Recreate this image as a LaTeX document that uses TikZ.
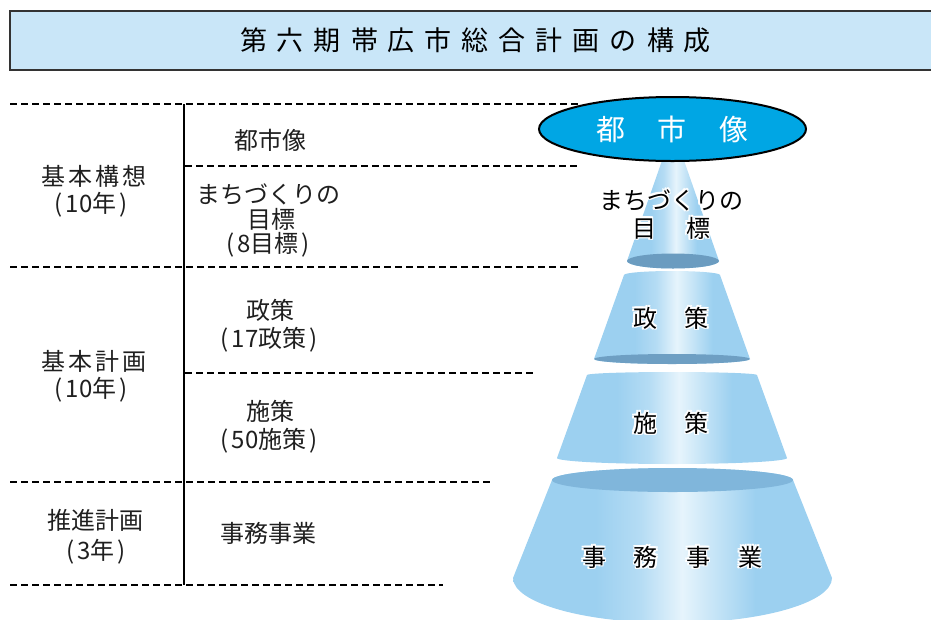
\documentclass[tikz,border=0pt]{standalone}
\usepackage{fontspec}
\setmainfont{Noto Sans CJK JP}
\usetikzlibrary{shapes.geometric}
\definecolor{titlebg}{HTML}{C9E6F8}
\definecolor{titleln}{HTML}{333333}
\definecolor{ellblue}{HTML}{00A6E4}
\definecolor{conebase}{HTML}{9CD0F0}
\definecolor{conemidA}{HTML}{B5DCF4}
\definecolor{conemidB}{HTML}{C3E3F6}
\definecolor{conehi}{HTML}{E6F4FC}
\definecolor{darkA}{HTML}{6B9CC0}
\definecolor{darkB}{HTML}{6E9FC3}
\definecolor{darkC}{HTML}{80B6DB}
\pgfdeclarehorizontalshading{conesh}{100bp}{color(0bp)=(conebase); color(25bp)=(conebase); color(38bp)=(conebase); color(45bp)=(conemidA); color(51.5bp)=(conehi); color(57bp)=(conemidB); color(63bp)=(conebase); color(75bp)=(conebase); color(100bp)=(conebase)}
\newcommand\tgap{\hspace{10pt}}
\newcommand\pl{(\hspace{3pt}}
\newcommand\pr{\hspace{3pt})}
\newcommand\halonode[3]{%
  \foreach \a in {0,45,...,315}{\node[ptxt,text=white] at ([shift={(\a:1.8)}]#2) {#3};}
  \node[ptxt] (#1) at (#2) {#3};}
\begin{document}
\begin{tikzpicture}[x=1pt,y=-1pt,
  dashln/.style={line width=1.3pt, dash pattern=on 6.5pt off 4.5pt},
  ltxt/.style={font=\fontsize{24}{26}\selectfont, inner sep=0pt, text=black!88},
  ptxt/.style={font=\fontsize{24}{26}\selectfont, inner sep=0pt, text=black}]
\useasboundingbox (0,0) rectangle (931,619);
% title
\node[draw=titleln, line width=2pt, fill=titlebg, minimum width=931pt, minimum height=59pt,
  inner sep=0pt, font=\fontsize{27}{29}\selectfont] (title) at (475.5,40.5)
  {第\tgap 六\tgap 期\tgap 帯\tgap 広\tgap 市\tgap 総\tgap 合\tgap 計\tgap 画\tgap の\tgap 構\tgap 成};
% table rules
\draw[dashln] (10,104) -- (580,104);
\draw[dashln] (185,166) -- (577,166);
\draw[dashln] (10,267) -- (580,267);
\draw[dashln] (185,373) -- (533,373);
\draw[dashln] (10,482) -- (492,482);
\draw[dashln] (10,585) -- (443,585);
\draw[line width=2pt] (184,104) -- (184,585);
% left column
\node[ltxt] (k1) at (94,176) {基\hspace{3pt}本\hspace{3pt}構\hspace{3pt}想};
\node[ltxt] (k1y) at (91,205) {\pl 10年\pr};
\node[ltxt] (k2) at (94,361) {基\hspace{3pt}本\hspace{3pt}計\hspace{3pt}画};
\node[ltxt] (k2y) at (91,390) {\pl 10年\pr};
\node[ltxt] (k3) at (95,520) {推進計画};
\node[ltxt] (k3y) at (96,552) {\pl 3年\pr};
% middle column
\node[ltxt] (m1) at (270,140) {都市像};
\node[ltxt] (m2a) at (268,194) {まちづくりの};
\node[ltxt] (m2b) at (271,219) {目標};
\node[ltxt] (m2c) at (268,245) {\pl 8目標\pr};
\node[ltxt] (m3a) at (270,310) {政策};
\node[ltxt] (m3b) at (269,340) {\pl 17政策\pr};
\node[ltxt] (m4a) at (270,411) {施策};
\node[ltxt] (m4b) at (269,441) {\pl 50施策\pr};
\node[ltxt] (m5) at (268,533) {事務事業};
% pyramid layers
\shade[shading=conesh] (552,480) arc[start angle=180,end angle=360,x radius=120.5,y radius=12]
  -- (832,578) arc[start angle=0,end angle=180,x radius=159.5,y radius=45] -- cycle;
\fill[darkC] (672.5,480) ellipse[x radius=120.5, y radius=12];
\shade[shading=conesh] (587,375) arc[start angle=180,end angle=360,x radius=85,y radius=3]
  -- (787,458) arc[start angle=0,end angle=180,x radius=115,y radius=6] -- cycle;
\shade[shading=conesh] (624,275) arc[start angle=180,end angle=360,x radius=48,y radius=4]
  -- (750,359) arc[start angle=0,end angle=180,x radius=78,y radius=5] -- cycle;
\fill[darkB] (672,359) ellipse[x radius=78, y radius=5];
\shade[shading=conesh] (673,129) -- (627,261) arc[start angle=180,end angle=0,x radius=46,y radius=7.5] -- cycle;
\fill[darkA] (673,261) ellipse[x radius=46, y radius=7.5];
% top ellipse
\node[ellipse, draw=black, line width=2pt, fill=ellblue, minimum width=267pt, minimum height=64pt,
  inner sep=0pt, text=white, font=\fontsize{29}{30}\selectfont] (city) at (672.5,129)
  {都\hspace{33pt}市\hspace{33pt}像};
% pyramid labels
\halonode{p1a}{671,200}{まちづくりの}
\halonode{p1b}{671,228}{目\hspace{30pt}標}
\halonode{p2}{671,318}{政\hspace{28pt}策}
\halonode{p3}{671,423}{施\hspace{28pt}策}
\halonode{p4}{672,557}{事\hspace{28pt}務\hspace{28pt}事\hspace{28pt}業}
\end{tikzpicture}
\end{document}
